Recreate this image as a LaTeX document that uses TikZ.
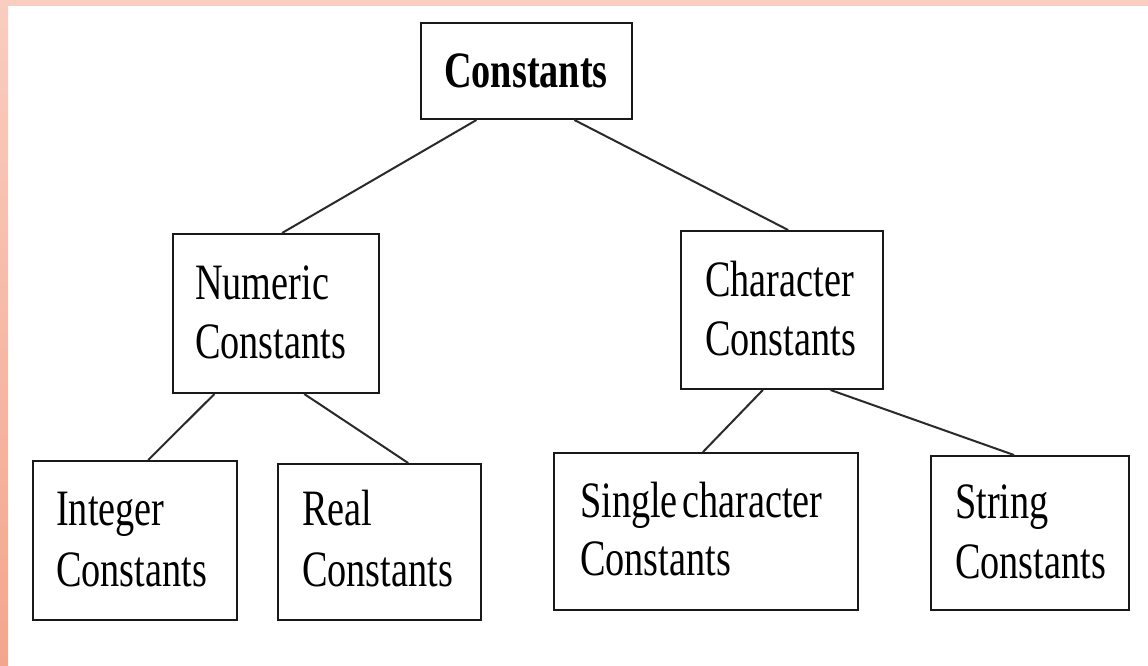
\documentclass[tikz,border=0pt]{standalone}
\usepackage{fontspec}
\setmainfont[FakeStretch=0.75]{Liberation Serif}
\usetikzlibrary{calc}
\definecolor{edgetop}{HTML}{F9CDC0}
\definecolor{edgebot}{HTML}{F3A68E}
\definecolor{linec}{HTML}{2A2A2A}
\tikzset{
  box/.style={draw=black!90, line width=2pt, fill=white, inner sep=0pt},
  txt/.style={anchor=base west, inner sep=0pt, font=\fontsize{51}{59}\selectfont},
  conn/.style={draw=linec, line width=2pt}
}
\begin{document}
\begin{tikzpicture}[x=1pt,y=1pt]
\useasboundingbox (0,0) rectangle (1148,-665);
\fill[white] (0,0) rectangle (1148,-665);
\fill[edgetop] (0,0) rectangle (1148,-6);
\shade[top color=edgetop, bottom color=edgebot] (0,0) rectangle (8,-665);

% boxes
\node[box, minimum width=211pt, minimum height=96pt] (root) at (526.5,-71) {};
\node[box, minimum width=206pt, minimum height=159pt] (num) at (276,-313.5) {};
\node[box, minimum width=202pt, minimum height=158pt] (chr) at (782,-310) {};
\node[box, minimum width=204pt, minimum height=159pt] (int) at (135,-540.5) {};
\node[box, minimum width=203pt, minimum height=156pt] (real) at (379.5,-542) {};
\node[box, minimum width=304pt, minimum height=157pt] (single) at (706,-531.5) {};
\node[box, minimum width=198pt, minimum height=154pt] (str) at (1030,-533) {};

% texts
\node[txt, anchor=base, font=\fontsize{51}{59}\selectfont\bfseries] (troot) at (526,-87) {Constants};
\node[txt] (tnum1) at (195,-299) {Numeric};
\node[txt] (tnum2) at (195,-358) {Constants};
\node[txt] (tchr1) at (705,-296) {Character};
\node[txt] (tchr2) at (705,-355) {Constants};
\node[txt] (tint1) at (56,-525) {Integer};
\node[txt] (tint2) at (56,-586) {Constants};
\node[txt] (treal1) at (302,-525) {Real};
\node[txt] (treal2) at (302,-586) {Constants};
\node[txt] (tsin1) at (580,-517) {Single\hspace{-5pt} character};
\node[txt] (tsin2) at (580,-575) {Constants};
\node[txt] (tstr1) at (955,-518) {String};
\node[txt] (tstr2) at (955,-578) {Constants};

% connectors
\draw[conn] ($(root.south west)!0.265!(root.south east)$) -- ($(num.north west)!0.529!(num.north east)$);
\draw[conn] ($(root.south west)!0.725!(root.south east)$) -- ($(chr.north west)!0.53!(chr.north east)$);
\draw[conn] ($(num.south west)!0.204!(num.south east)$) -- ($(int.north west)!0.564!(int.north east)$);
\draw[conn] ($(num.south west)!0.636!(num.south east)$) -- ($(real.north west)!0.64!(real.north east)$);
\draw[conn] ($(chr.south west)!0.406!(chr.south east)$) -- ($(single.north west)!0.49!(single.north east)$);
\draw[conn] ($(chr.south west)!0.738!(chr.south east)$) -- ($(str.north west)!0.42!(str.north east)$);
\end{tikzpicture}
\end{document}
